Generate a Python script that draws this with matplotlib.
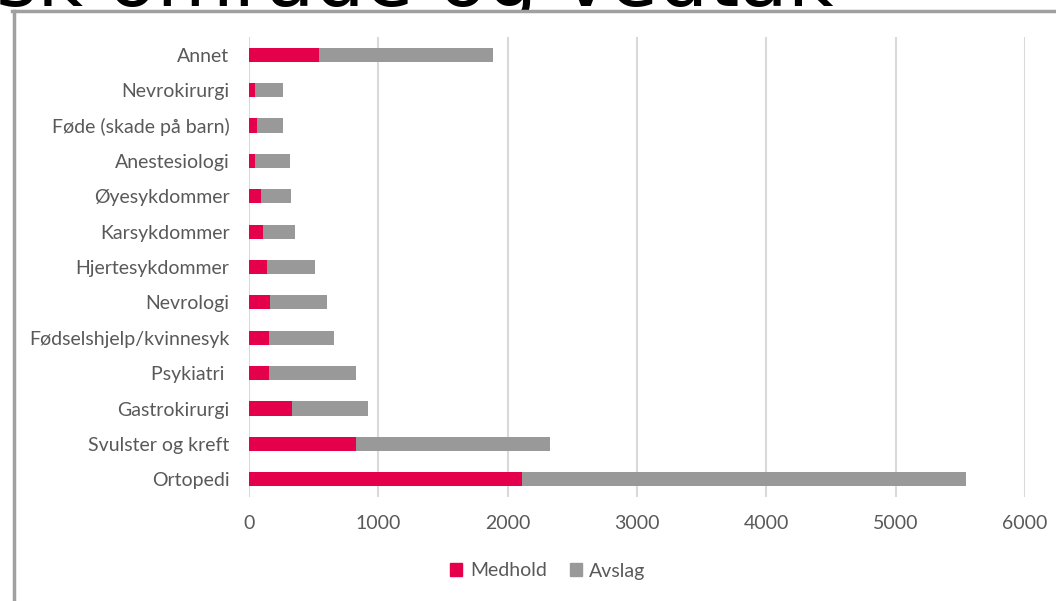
import matplotlib
matplotlib.use("Agg")
import matplotlib.pyplot as plt
from matplotlib.lines import Line2D
from matplotlib.patches import Patch, Rectangle

# categories top -> bottom as in the picture
categories = ["Annet", "Nevrokirurgi", "Føde (skade på barn)", "Anestesiologi",
              "Øyesykdommer", "Karsykdommer", "Hjertesykdommer", "Nevrologi",
              "Fødselshjelp/kvinnesyk", "Psykiatri ", "Gastrokirurgi",
              "Svulster og kreft", "Ortopedi"]
medhold = [541, 46, 62, 46, 93, 108, 143, 162, 155, 155, 333, 828, 2111]
avslag = [1346, 217, 201, 271, 232, 248, 364, 441, 502, 673, 587, 1500, 3434]
xticks = [0, 1000, 2000, 3000, 4000, 5000, 6000]

RED = "#E4004B"
GRAY = "#999999"
TXT = "#595959"

plt.rcParams['font.family'] = ['Lato', 'DejaVu Sans']

fig = plt.figure(figsize=(10.56, 6.01), dpi=100)
W, H = 1056, 601
ax = fig.add_axes([249 / W, 1 - 497 / H, (1025 - 249) / W, (497 - 37) / H])
ax.set_zorder(3)

n = len(categories)
ypos = list(range(n - 1, -1, -1))
ax.barh(ypos, medhold, height=0.4, color=RED, label="Medhold", zorder=3)
ax.barh(ypos, avslag, left=medhold, height=0.4, color=GRAY, label="Avslag", zorder=3)

ax.set_xlim(0, 6000)
ax.set_ylim(-0.5, n - 0.5)
ax.set_xticks(xticks)
ax.set_xticklabels([str(t) for t in xticks])
ax.set_yticks(ypos)
ax.set_yticklabels(categories)
ax.tick_params(axis='both', length=0, labelsize=14, labelcolor=TXT)
ax.tick_params(axis='x', pad=13)
ax.tick_params(axis='y', pad=14)
ax.grid(axis='x', color="#d9d9d9", linewidth=1.5, zorder=0)
for s in ax.spines.values():
    s.set_visible(False)

handles = [Patch(color=RED, label="Medhold"), Patch(color=GRAY, label="Avslag")]
leg = fig.legend(handles=handles, loc='center', bbox_to_anchor=(548 / W, 1 - 571 / H),
                 ncol=2, frameon=False, fontsize=14, labelcolor=TXT,
                 handlelength=0.6, handleheight=0.6, handletextpad=0.4, columnspacing=1.2)
leg.set_zorder(4)

# cut-off slide title, hidden behind the chart area
fig.text(-4 / W, 1 - 6 / H, "sk område og vedtak", fontsize=57, color="black",
         ha='left', va='baseline', family=['DejaVu Sans'], zorder=0.5)

# white chart area with its frame
fig.add_artist(Rectangle((13 / W, 0), 1, 1 - 11 / H, transform=fig.transFigure,
                         facecolor="white", edgecolor="none", zorder=1))
fig.add_artist(Line2D([12 / W, 1], [1 - 11 / H, 1 - 11 / H], color="#a0a0a0",
                      linewidth=2.5, zorder=2))
fig.add_artist(Line2D([14 / W, 14 / W], [0, 1 - 11 / H], color="#a0a0a0",
                      linewidth=2.5, zorder=2))

fig.savefig("out.png", dpi=100)
